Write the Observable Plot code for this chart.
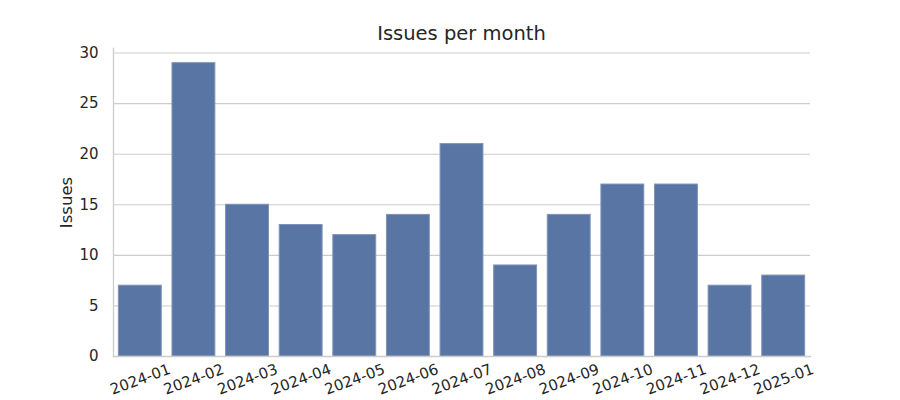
<!DOCTYPE html>
<html>
<head>
<meta charset="utf-8">
<script src="https://cdn.jsdelivr.net/npm/d3@7"></script>
<script src="https://cdn.jsdelivr.net/npm/@observablehq/plot@0.6"></script>
<style>
  body { margin: 0; background: #fff; font-family: "DejaVu Sans", sans-serif; }
  #wrap { width: 900px; height: 400px; position: relative; }
  #title { position: absolute; left: 113px; width: 697px; top: 0; height: 44px; box-sizing: border-box; padding-top: 24px; line-height: 1; text-align: center; font-size: 19.5px; color: #262626; }
  #chart { position: absolute; left: 0; top: 44px; }
</style>
</head>
<body>
<div id="wrap">
  <div id="title">Issues per month</div>
  <div id="chart"></div>
</div>
<script>
const months = ["2024-01","2024-02","2024-03","2024-04","2024-05","2024-06","2024-07","2024-08","2024-09","2024-10","2024-11","2024-12","2025-01"];
const issues = [7, 29, 15, 13, 12, 14, 21, 9, 14, 17, 17, 7, 8];
const yTicks = [0, 5, 10, 15, 20, 25, 30];

const data = months.map((m, i) => ({month: m, count: issues[i]}));

const plot = Plot.plot({
  width: 900,
  height: 356,
  marginLeft: 113,
  marginRight: 90,
  marginTop: 4,
  marginBottom: 44,
  style: {fontFamily: "'DejaVu Sans', sans-serif", fontSize: "15px", color: "#262626", background: "#fff"},
  x: {domain: months, paddingInner: 0.2, paddingOuter: 0.1, round: false, label: null},
  y: {domain: [0, 30.45], label: null},
  marks: [
    Plot.gridY(yTicks, {stroke: "#cccccc", strokeOpacity: 1, strokeWidth: 1.1}),
    Plot.barY(data, {x: "month", y: "count", fill: "#5875a4", stroke: "#7f93b8", strokeWidth: 1}),
    Plot.frame({anchor: "left", stroke: "#cccccc", strokeWidth: 1.3}),
    Plot.frame({anchor: "bottom", stroke: "#cccccc", strokeWidth: 1.3}),
    Plot.axisY(yTicks, {tickSize: 0, tickPadding: 15, fontSize: 15, fill: "#262626", label: null}),
    Plot.axisX({ticks: [], label: null}),
    Plot.text(months, {x: d => d, frameAnchor: "bottom", dy: 23, rotate: -20, textAnchor: "middle", lineAnchor: "middle", fontSize: 15, fill: "#262626"}),
    Plot.text(["Issues"], {frameAnchor: "left", dx: -47, rotate: -90, textAnchor: "middle", lineAnchor: "middle", fontSize: 16.5, fill: "#262626"})
  ]
});
document.getElementById("chart").appendChild(plot);
</script>
</body>
</html>
